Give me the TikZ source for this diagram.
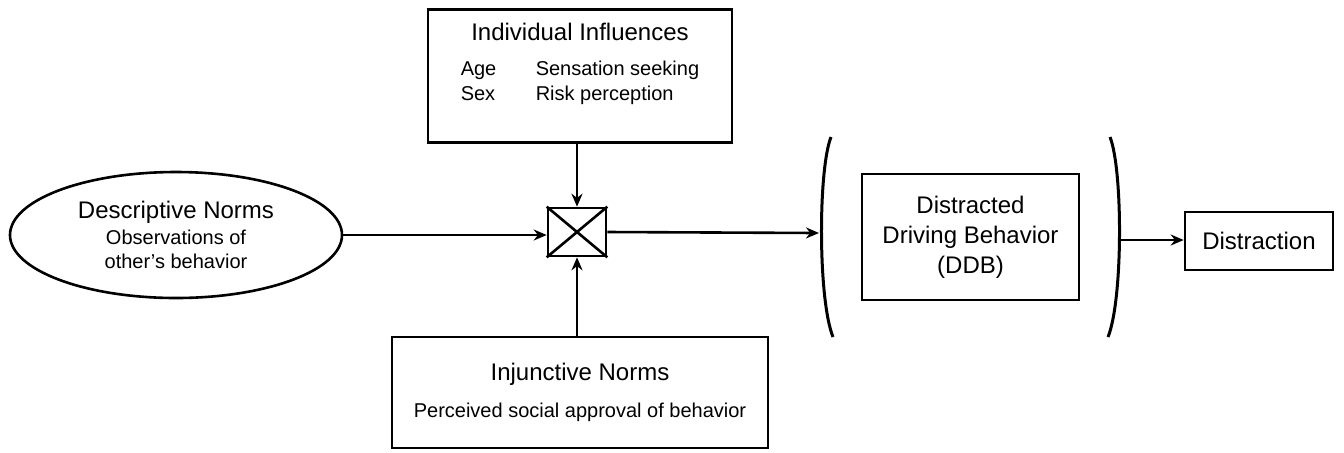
\documentclass[tikz,border=0pt]{standalone}
\usepackage{fontspec}
\setmainfont{Liberation Sans}
\usetikzlibrary{positioning,shapes.geometric,arrows.meta}
\tikzset{>={Stealth[length=6.5pt,width=5.5pt]}}
\newcommand{\headfont}{\fontsize{12}{15}\selectfont}
\newcommand{\subfont}{\fontsize{10}{12}\selectfont}

\begin{document}
\begin{tikzpicture}[x=0.5pt,y=-0.5pt,line width=1.3pt,
  box/.style={draw,rectangle,inner sep=0pt,align=center},
  txt/.style={inner sep=0pt,align=center}]
\useasboundingbox (0,0) rectangle (1344,452);
% individual influences
\node[box,minimum width=152pt,minimum height=66.5pt] (infl) at (580,76) {};
\node[txt,font=\headfont] (inflhead) at (580,32) {Individual Influences};
\node[txt,font=\subfont] (infllist) at (580,83)
  {\begin{tabular}{@{}l@{\hspace{19.7pt}}l@{}}Age & Sensation seeking\\[0.5pt] Sex & Risk perception\end{tabular}};
% descriptive norms
\node[draw,ellipse,inner sep=0pt,minimum width=166pt,minimum height=63pt,align=center,font=\subfont] (desc) at (176,235)
  {{\headfont Descriptive Norms}\\[1pt]Observations of\\other's behavior};
% multiplier
\node[box,minimum width=29pt,minimum height=24pt] (mult) at (577,232) {};
\draw (mult.north west) -- (mult.south east);
\draw (mult.south west) -- (mult.north east);
% injunctive norms
\node[box,minimum width=188pt,minimum height=55.5pt,font=\subfont] (inj) at (580,392.5)
  {{\headfont Injunctive Norms}\\[6.5pt]Perceived social approval of behavior};
% distracted driving behavior
\node[box,minimum width=108.5pt,minimum height=63pt,font=\headfont] (ddb) at (970.5,237)
  {Distracted\\Driving Behavior\\(DDB)};
\draw[line width=1.5pt] (831,137) .. controls (818,170) and (818,300) .. (833,337);
\draw[line width=1.5pt] (1110,137) .. controls (1123,170) and (1123,300) .. (1108,337);
\coordinate (lparen) at (819,233);
\coordinate (rparen) at (1119,240);
% distraction
\node[box,minimum width=74pt,minimum height=29pt,font=\headfont] (dist) at (1259,241) {Distraction};
% connectors
\draw[->] (infl.south -| mult.north) -- (mult.north);
\draw[->] (inj.north -| mult.south) -- (mult.south);
\draw[->] (desc.east) -- (desc.east -| mult.west);
\draw[->] (mult.east) -- (lparen);
\draw[->] (rparen) -- (rparen -| dist.west);
\end{tikzpicture}
\end{document}
